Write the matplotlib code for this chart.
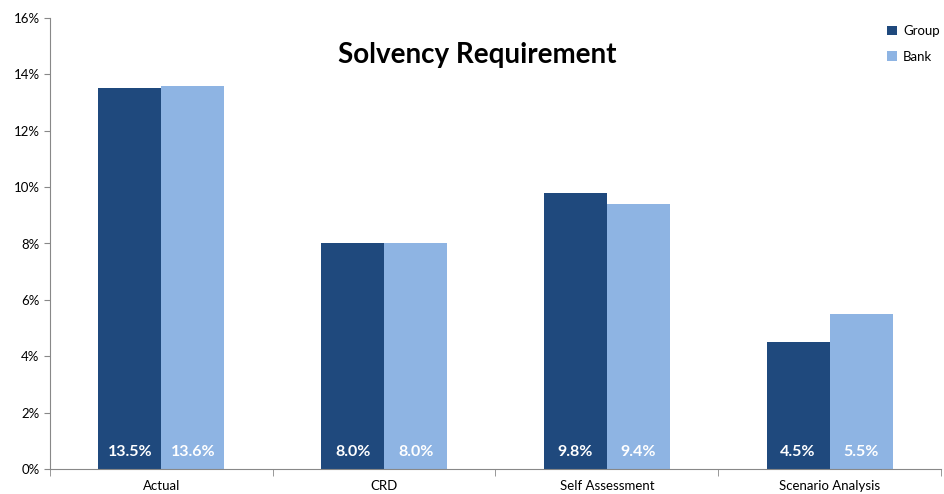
import numpy as np
import matplotlib.pyplot as plt
from matplotlib.ticker import FuncFormatter

categories = ["Actual", "CRD", "Self Assessment", "Scenario Analysis"]
group = [13.5, 8.0, 9.8, 4.5]
bank = [13.6, 8.0, 9.4, 5.5]

plt.rcParams['font.family'] = ['Lato', 'DejaVu Sans']

fig = plt.figure(figsize=(9.45, 4.94), dpi=100)
ax = fig.add_axes([50/945, 1 - 469/494, 891/945, 451/494])

x = np.arange(len(categories))
w = 0.283
b1 = ax.bar(x - w/2, group, w, color='#1F497D', label='Group')
b2 = ax.bar(x + w/2, bank, w, color='#8EB4E3', label='Bank')

for bars, vals in [(b1, group), (b2, bank)]:
    for r, v in zip(bars, vals):
        ax.text(r.get_x() + r.get_width()/2, 0.6, f"{v:.1f}%", ha='center', va='center',
                color='white', fontsize=11.5, fontweight='bold')

ax.set_xlim(-0.5, len(categories) - 0.5)
ax.set_ylim(0, 16)
ax.set_yticks(np.arange(0, 17, 2))
ax.yaxis.set_major_formatter(FuncFormatter(lambda v, p: f"{int(v)}%"))
ax.set_xticks(x)
ax.set_xticklabels(categories)
ax.set_xticks(np.arange(-0.5, len(categories)), minor=True)
ax.tick_params(axis='x', which='major', length=0, labelsize=9.5, pad=8)
ax.tick_params(axis='x', which='minor', length=5, color='#888888')
ax.tick_params(axis='y', length=4, color='#888888', labelsize=9.5)

for s in ['top', 'right']:
    ax.spines[s].set_visible(False)
for s in ['left', 'bottom']:
    ax.spines[s].set_color('#888888')

fig.text(477/945, 1 - 55/494, "Solvency Requirement", fontsize=20, fontweight='bold',
         ha='center', va='center')
ax.legend(loc='upper right', bbox_to_anchor=(1.012, 1.01), frameon=False, fontsize=9.5,
          handlelength=0.7, handleheight=0.7, labelspacing=1.0, handletextpad=0.5)

plt.savefig('out.png', dpi=100)
